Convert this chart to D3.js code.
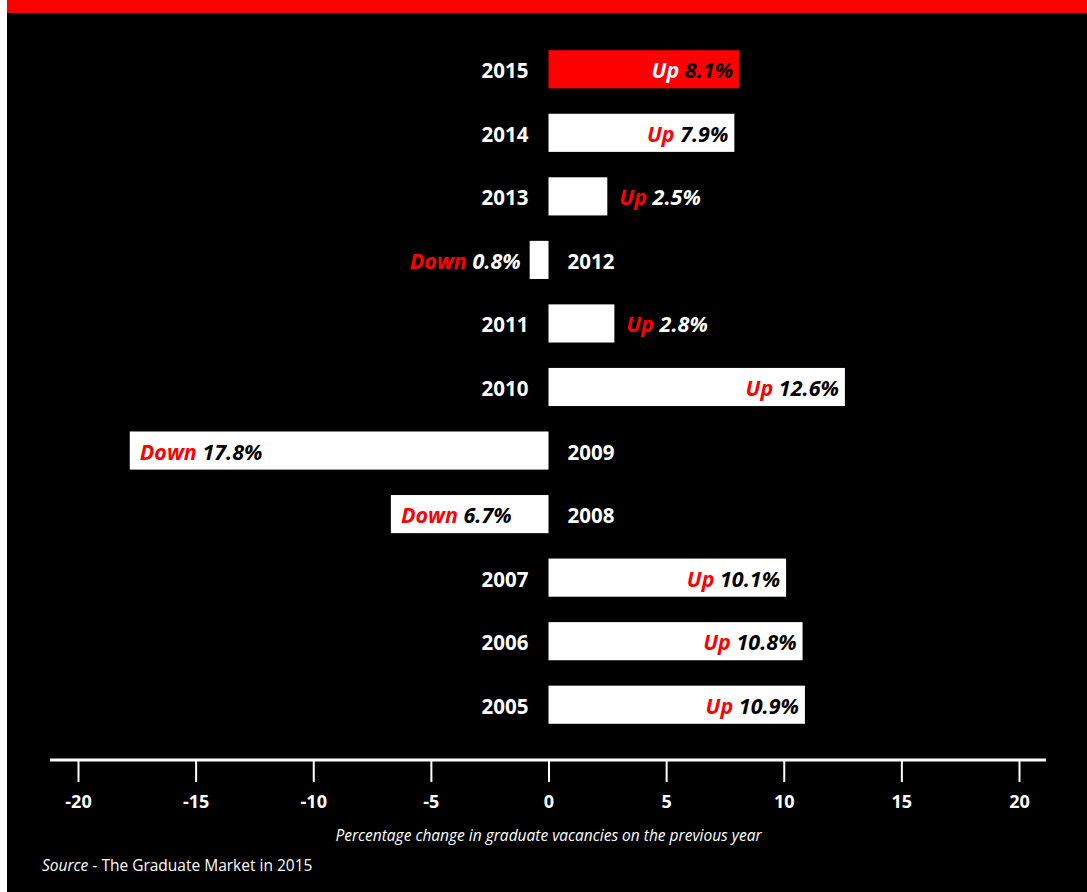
<!DOCTYPE html>
<html>
<head>
<meta charset="utf-8">
<script src="https://cdn.jsdelivr.net/npm/d3@7"></script>
<style>
  body { margin: 0; background: #fff; }
  text { font-family: "Open Sans", "Noto Sans", sans-serif; }
</style>
</head>
<body>
<div id="chart-area"></div>
<script>
// graduate vacancies, % change on previous year
const years = ['2015', '2014', '2013', '2012', '2011', '2010', '2009', '2008', '2007', '2006', '2005'];
const changes = [8.1, 7.9, 2.5, -0.8, 2.8, 12.6, -17.8, -6.7, 10.1, 10.8, 10.9];
const ticks = [-20, -15, -10, -5, 0, 5, 10, 15, 20];

const data = years.map((y, i) => ({ year: y, value: changes[i] }));

const width = 1087, height = 892;

const svg = d3.select('#chart-area').append('svg')
  .attr('width', width)
  .attr('height', height);

svg.append('rect').attr('x', 7).attr('y', 0)
  .attr('width', width - 7).attr('height', height).attr('fill', '#000');
svg.append('rect').attr('x', 7).attr('y', 0)
  .attr('width', width - 7).attr('height', 13).attr('fill', '#ff0000');

const x = d3.scaleLinear().domain([-20, 20]).range([78, 1019]);
const y = d3.scaleBand().domain(years).range([37.5, 736.5]).paddingInner(0.4).paddingOuter(0.2);

const bars = svg.selectAll('.bar')
  .data(data)
  .enter()
  .append('g')
  .attr('class', 'bar');

bars.append('rect')
  .attr('x', d => x(Math.min(0, d.value)))
  .attr('y', d => y(d.year))
  .attr('width', d => Math.abs(x(d.value) - x(0)))
  .attr('height', y.bandwidth())
  .attr('fill', d => d.year === '2015' ? '#ff0000' : '#fff');

// year labels on the other side of zero
bars.append('text')
  .attr('x', d => d.value >= 0 ? x(0) - 20 : x(0) + 19)
  .attr('y', d => y(d.year) + y.bandwidth() / 2 + 9)
  .attr('text-anchor', d => d.value >= 0 ? 'end' : 'start')
  .attr('fill', '#fff')
  .attr('font-size', 20.5)
  .attr('font-weight', 'bold')
  .text(d => d.year);

// value labels: inside the bar if it is wide enough
const inside = d => Math.abs(x(d.value) - x(0)) > 120;

const labels = bars.append('text')
  .attr('y', d => y(d.year) + y.bandwidth() / 2 + 9)
  .attr('font-size', 21.5)
  .attr('font-weight', 'bold')
  .attr('font-style', 'italic')
  .attr('x', d => {
    if (d.value >= 0) return inside(d) ? x(d.value) - 6 : x(d.value) + 12;
    return inside(d) ? x(d.value) + 10 : x(d.value) - 9;
  })
  .attr('text-anchor', d => {
    if (d.value >= 0) return inside(d) ? 'end' : 'start';
    return inside(d) ? 'start' : 'end';
  });

labels.append('tspan')
  .attr('fill', d => d.year === '2015' ? '#fff' : '#ff0000')
  .text(d => d.value >= 0 ? 'Up ' : 'Down ');

labels.append('tspan')
  .attr('fill', d => inside(d) ? '#000' : '#fff')
  .text(d => Math.abs(d.value).toFixed(1) + '%');

// axis
const axis = svg.append('g')
  .attr('transform', 'translate(0,760)')
  .call(d3.axisBottom(x).tickValues(ticks).tickSize(22).tickPadding(13).tickFormat(d3.format('d')));

axis.select('.domain').remove();
axis.append('line')
  .attr('x1', 50).attr('x2', 1046)
  .attr('stroke', '#fff').attr('stroke-width', 3);
axis.selectAll('.tick line').attr('stroke', '#fff').attr('stroke-width', 2);
axis.selectAll('.tick text')
  .attr('fill', '#fff')
  .attr('font-size', 18)
  .attr('font-weight', 'bold')
  .attr('font-family', '"Open Sans", "Noto Sans", sans-serif')
  .text(d => d < 0 ? '-' + Math.abs(d) : d);

svg.append('text')
  .attr('x', x(0))
  .attr('y', 841)
  .attr('text-anchor', 'middle')
  .attr('fill', '#fff')
  .attr('font-size', 15.5)
  .attr('font-style', 'italic')
  .text('Percentage change in graduate vacancies on the previous year');

const source = svg.append('text')
  .attr('x', 42)
  .attr('y', 871)
  .attr('fill', '#fff')
  .attr('font-size', 15.5);
source.append('tspan').attr('font-style', 'italic').text('Source');
source.append('tspan').text(' - The Graduate Market in 2015');
</script>
</body>
</html>
